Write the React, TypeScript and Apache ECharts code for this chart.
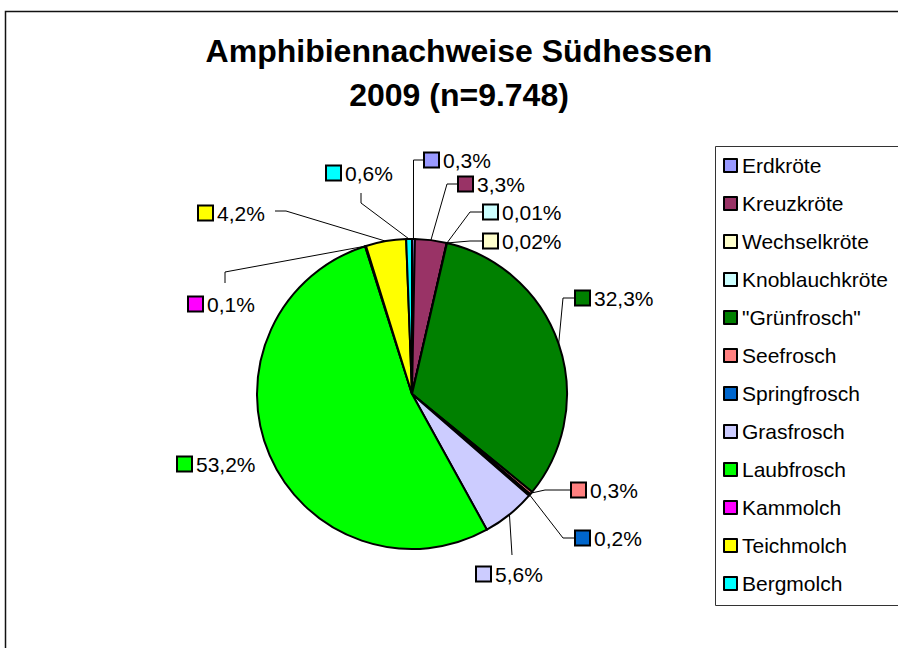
import React, { useEffect, useRef } from "react";
import * as echarts from "echarts";

const TITLE_LINES = ["Amphibiennachweise Südhessen", "2009 (n=9.748)"];
const SPECIES = [
  "Erdkröte",
  "Kreuzkröte",
  "Wechselkröte",
  "Knoblauchkröte",
  '"Grünfrosch"',
  "Seefrosch",
  "Springfrosch",
  "Grasfrosch",
  "Laubfrosch",
  "Kammolch",
  "Teichmolch",
  "Bergmolch",
];
const SHARES = [0.3, 3.3, 0.02, 0.01, 32.3, 0.3, 0.2, 5.6, 53.2, 0.1, 4.2, 0.6];
const COLORS = [
  "#9999FF",
  "#993366",
  "#FFFFCC",
  "#CCFFFF",
  "#008000",
  "#FF8080",
  "#0066CC",
  "#CCCCFF",
  "#00FF00",
  "#FF00FF",
  "#FFFF00",
  "#00FFFF",
];

// label anchor (left of marker, vertical middle)
const LABEL_ANCHOR: [number, number][] = [
  [425, 160],
  [459, 184],
  [484, 241],
  [484, 212],
  [576, 298],
  [572, 490],
  [576, 538],
  [477, 574],
  [178, 464],
  [189, 304],
  [199, 213],
  [327, 173],
];
// leader line route after the point on the pie edge
const LEADER_ROUTE: ([number, number][] | null)[] = [
  [[413.5, 160], [425, 160]],
  [[447, 184], [459, 184]],
  [[470, 241], [484, 241]],
  [[470, 212], [484, 212]],
  [[563, 298], [576, 298]],
  [[545, 490], [572, 490]],
  [[563, 538], [576, 538]],
  [[512, 555], [512, 555]],
  null,
  [[225, 272], [225, 283]],
  [[286, 211], [275, 211]],
  [[361, 203], [361, 193]],
];

const FONT = "'Liberation Sans', Arial, sans-serif";
const CENTER: [number, number] = [412, 394];
const RADIUS = 155;

function fmt(v: number) {
  return String(v).replace(".", ",") + "%";
}

export default function App() {
  const ref = useRef<HTMLDivElement>(null);
  useEffect(() => {
    if (!ref.current) return;
    const chart = echarts.init(ref.current, undefined, { renderer: "svg" });
    const total = SHARES.reduce((a, b) => a + b, 0);
    const edgePoint = (i: number): [number, number] => {
      let cum = 0;
      for (let k = 0; k < i; k++) cum += SHARES[k];
      const mid = ((cum + SHARES[i] / 2) / total) * Math.PI * 2;
      return [CENTER[0] + RADIUS * Math.sin(mid), CENTER[1] - RADIUS * Math.cos(mid)];
    };
    const rich: any = {
      t: { fontSize: 21, color: "#000", fontFamily: FONT, padding: [0, 0, 0, 5] },
    };
    COLORS.forEach((c, i) => {
      rich["m" + i] = {
        width: 13,
        height: 13,
        backgroundColor: c,
        borderColor: "#000",
        borderWidth: 2,
      };
    });
    chart.setOption({
      animation: false,
      color: COLORS,
      graphic: [
        {
          type: "rect",
          shape: { x: 5.5, y: 11.5, width: 1000, height: 1000 },
          style: { fill: "none", stroke: "#111", lineWidth: 1.5 },
          silent: true,
        },
        {
          type: "rect",
          shape: { x: 715.5, y: 146.5, width: 400, height: 459 },
          style: { fill: "none", stroke: "#333", lineWidth: 1 },
          silent: true,
        },
        ...TITLE_LINES.map((t, i) => ({
          type: "text",
          x: 459,
          y: 51 + i * 44,
          style: {
            text: t,
            align: "center",
            verticalAlign: "middle",
            fontSize: 32,
            fontWeight: "bold",
            fontFamily: FONT,
            fill: "#000",
          },
        })),
      ],
      legend: {
        orient: "vertical",
        left: 718,
        top: 150,
        itemWidth: 13,
        itemHeight: 13,
        itemGap: 17,
        selectedMode: false,
        icon: "rect",
        data: SPECIES,
        itemStyle: { borderColor: "#000", borderWidth: 2 },
        textStyle: { fontSize: 21, color: "#000", fontFamily: FONT },
      },
      series: [
        {
          type: "pie",
          center: CENTER,
          radius: RADIUS,
          startAngle: 90,
          clockwise: true,
          avoidLabelOverlap: false,
          emphasis: { disabled: true },
          itemStyle: { borderColor: "#000", borderWidth: 2 },
          label: {
            show: true,
            position: "outside",
            formatter: (p: any) => `{m${p.dataIndex}|}{t|${fmt(p.value)}}`,
            rich,
          },
          labelLine: { show: true, length: 10, length2: 10, lineStyle: { color: "#000", width: 1 } },
          labelLayout: (params: any) => {
            const i = params.dataIndex;
            const [lx, ly] = LABEL_ANCHOR[i];
            const route = LEADER_ROUTE[i];
            const res: any = { x: lx, y: ly, align: "left", verticalAlign: "middle" };
            if (route) {
              const first = edgePoint(i);
              res.labelLinePoints = [first, route[0], route[1]];
            }
            return res;
          },
          data: SPECIES.map((n, i) => ({
            name: n,
            value: SHARES[i],
            labelLine: { show: LEADER_ROUTE[i] !== null },
          })),
        },
      ],
    });
    return () => chart.dispose();
  }, []);
  return (
    <div
      ref={ref}
      style={{ position: "fixed", left: 0, top: 0, width: 898, height: 648, background: "#fff" }}
    />
  );
}
